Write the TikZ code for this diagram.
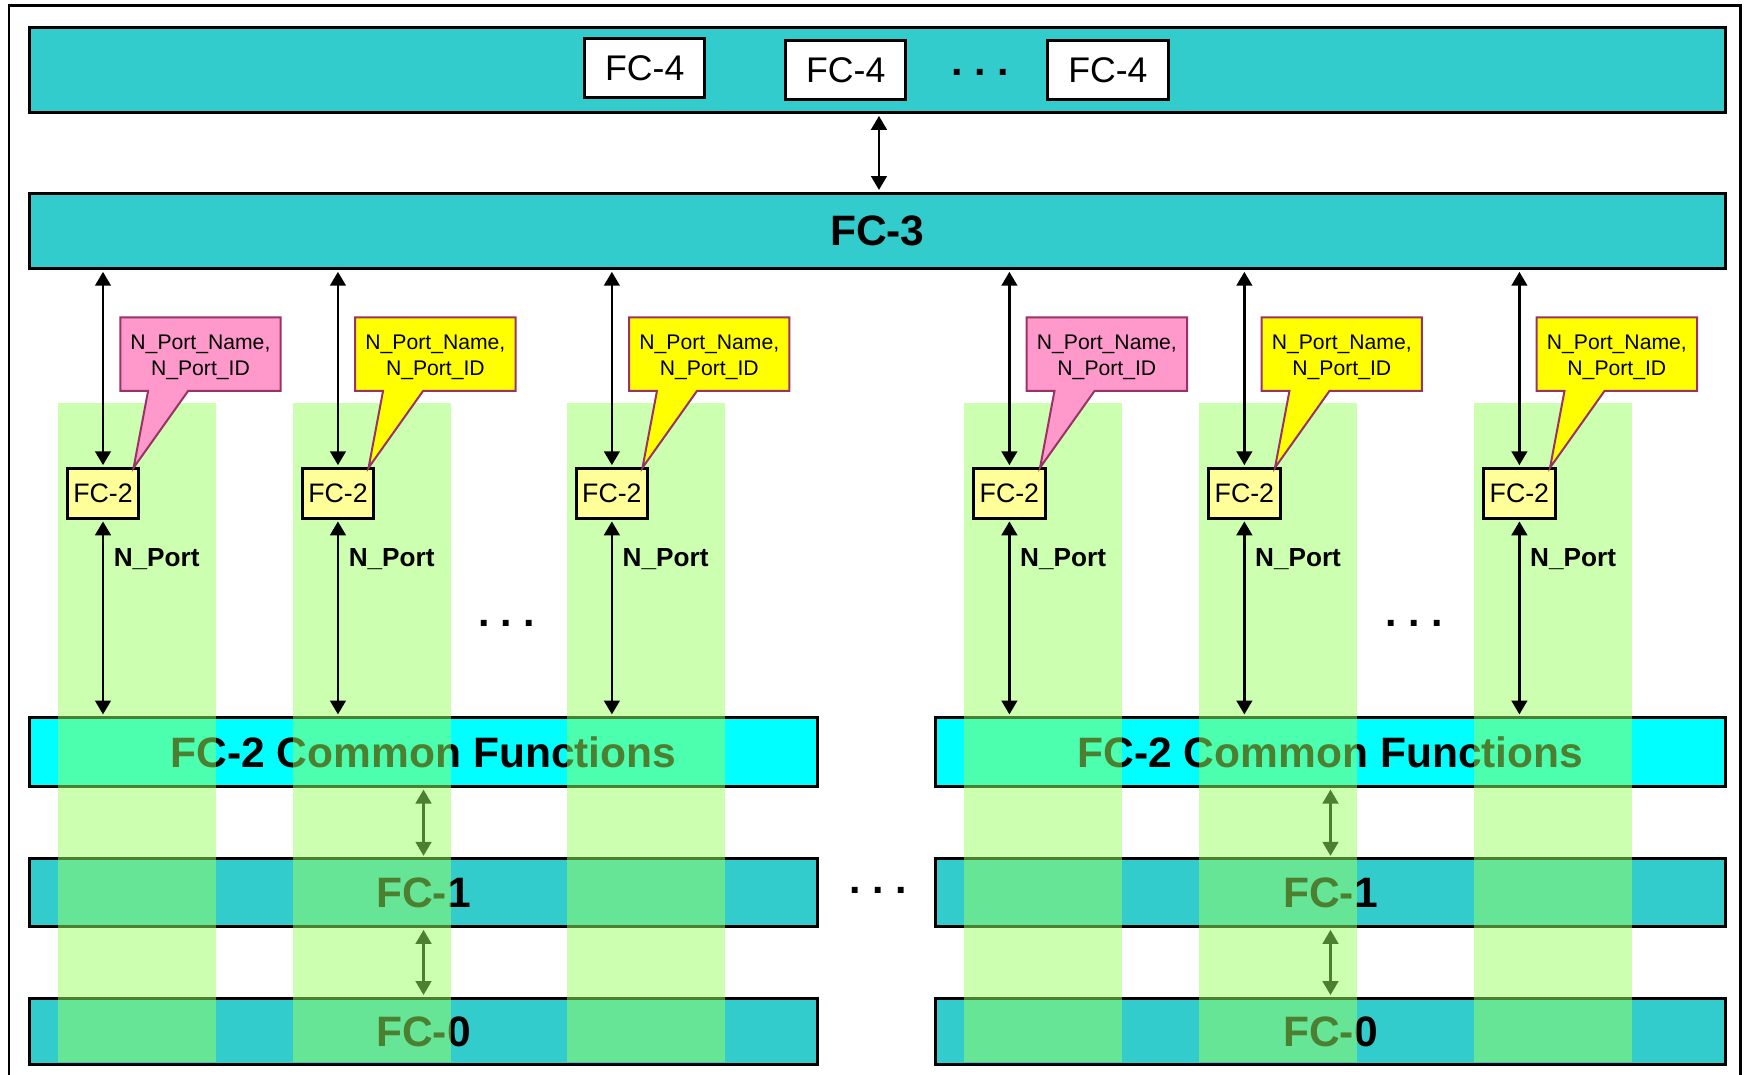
\documentclass[tikz,border=0pt]{standalone}
\usepackage{fontspec}
\setmainfont{Liberation Sans}
\usetikzlibrary{arrows.meta}
\definecolor{bandteal}{HTML}{33CCCC}
\definecolor{bandcyan}{HTML}{00FFFF}
\definecolor{boxyellow}{HTML}{FFFF99}
\definecolor{callpink}{HTML}{FF99CC}
\definecolor{callyellow}{HTML}{FFFF00}
\definecolor{callborder}{HTML}{993366}
\definecolor{colgreen}{RGB}{153,255,97}
\begin{document}
\begin{tikzpicture}[x=1pt,y=-1pt,
  band/.style={draw=black,line width=2.7pt,fill=bandteal,inner sep=0pt,anchor=north west},
  fcfour/.style={draw=black,line width=2.7pt,fill=white,minimum width=108pt,minimum height=53pt,inner sep=0pt,font=\fontsize{32}{38}\selectfont},
  bigbold/.style={font=\fontsize{38.2}{44}\selectfont\bfseries},
  dotsnode/.style={font=\fontsize{37}{44}\selectfont\bfseries,inner sep=0pt},
  darr/.style={line width=2.4pt,{Triangle[width=14pt,length=12.5pt]}-{Triangle[width=14pt,length=12.5pt]},shorten <=1.4pt,shorten >=1.4pt},
  fctwo/.style={draw=black,line width=2.7pt,fill=boxyellow,minimum width=64pt,minimum height=45pt,inner sep=0pt,font=\fontsize{24}{29}\selectfont},
  callout/.style={draw=callborder,line width=1.8pt,line join=miter},
  calltext/.style={align=center,font=\fontsize{19}{23}\selectfont,inner sep=0pt},
  nport/.style={font=\fontsize{23.5}{28}\selectfont\bfseries,anchor=west,inner sep=0pt},
  column/.style={fill=colgreen,fill opacity=0.5,draw=none},
]
\useasboundingbox (0,0) rectangle (1568,965);
% outer frame
\draw[line width=2pt] (8,975) -- (8,5) -- (1563,5) -- (1563,975);
% top band with FC-4 boxes
\node[band,minimum width=1523pt,minimum height=77pt] (l4) at (25,23) {};
\node[fcfour] (f4a) at (579,61) {FC-4};
\node[fcfour] (f4b) at (759.5,63) {FC-4};
\node[fcfour] (f4c) at (995,63) {FC-4};
\node[dotsnode] (d4) at (880,65) {.\ .\ .};
% FC-3 band
\node[band,bigbold,minimum width=1523pt,minimum height=68pt] (l3) at (25,172) {FC-3};
\draw[darr] ([xshift=1.5pt]l4.south) -- ([xshift=1.5pt]l3.north);
% lower bands
\node[band,bigbold,fill=bandcyan,minimum width=708pt,minimum height=62pt] (cfL) at (25,643) {FC-2 Common Functions};
\node[band,bigbold,fill=bandcyan,minimum width=709pt,minimum height=62pt] (cfR) at (839,643) {FC-2 Common Functions};
\node[band,bigbold,minimum width=708pt,minimum height=61pt] (f1L) at (25,770) {FC-1};
\node[band,bigbold,minimum width=709pt,minimum height=61pt] (f1R) at (839,770) {FC-1};
\node[band,bigbold,minimum width=708pt,minimum height=60pt] (f0L) at (25,895) {FC-0};
\node[band,bigbold,minimum width=709pt,minimum height=60pt] (f0R) at (839,895) {FC-0};
\draw[darr] (cfL.south) -- (f1L.north);
\draw[darr] (f1L.south) -- (f0L.north);
\draw[darr] (cfR.south) -- (f1R.north);
\draw[darr] (f1R.south) -- (f0R.north);
\node[dotsnode] (d1) at (789,800) {.\ .\ .};
% translucent green columns
\foreach \cx in {92,303,549,906,1117,1364}{
  \fill[column] (\cx-40,362) rectangle (\cx+102,954);
}
% ports
\foreach \cx/\cc/\i/\g in {92/callpink/1/L,303/callyellow/2/L,549/callyellow/3/L,906/callpink/4/R,1117/callyellow/5/R,1364/callyellow/6/R}{
  \node[fctwo] (b\i) at (\cx+0.5,443) {FC-2};
  \draw[darr] (b\i.north |- l3.south) -- (b\i.north);
  \draw[darr] (b\i.south) -- (b\i.south |- cf\g.north);
  \draw[callout,fill=\cc] (\cx+16,285) -- (\cx+160,285) -- (\cx+160,351) -- (\cx+77,351) -- (\cx+28,420) -- (\cx+41,351) -- (\cx+16,351) -- cycle;
  \node[calltext] (c\i) at (\cx+88,321) {N\_Port\_Name,\\N\_Port\_ID};
  \node[nport] (n\i) at (\cx+10,502.5) {N\_Port};
}
\node[dotsnode] (dm1) at (455,560) {.\ .\ .};
\node[dotsnode] (dm2) at (1270,560) {.\ .\ .};
\end{tikzpicture}
\end{document}
